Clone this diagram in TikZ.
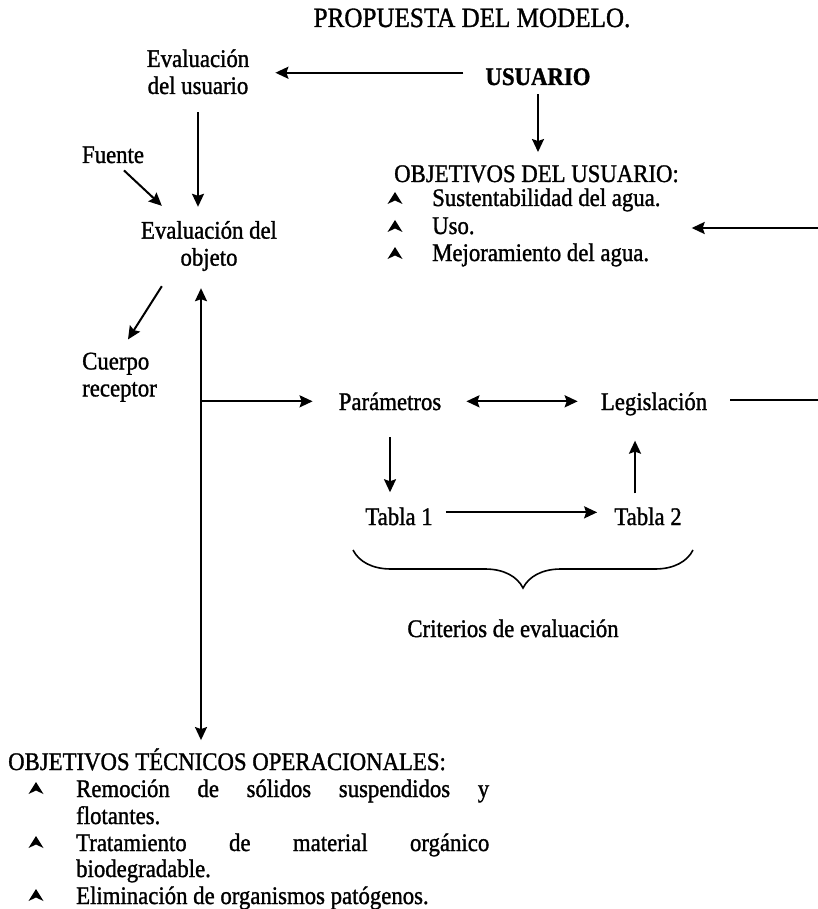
\documentclass[tikz,border=0pt]{standalone}
\usepackage{fontspec}
\setmainfont{Liberation Serif}[FakeStretch=0.9,FakeBold=1.2]
\usetikzlibrary{arrows.meta}
\usetikzlibrary{calc}
\usetikzlibrary{decorations.pathreplacing}
\newcommand\txtsize{\fontsize{25.3}{27}\selectfont}
\newcommand\bulmark[2]{
  \fill[shift={(#1,#2)}] (0,-12) -- (7.5,0) -- (0,-3.5) -- (-7.5,0) -- cycle;
}
\tikzset{
  lbl/.style={inner sep=0pt, font=\txtsize},
  conn/.style={line width=2pt, >={Stealth[length=13pt,width=12pt,inset=2pt]}},
}

\begin{document}
\begin{tikzpicture}[x=1pt,y=-1pt]
\useasboundingbox (0,0) rectangle (818,909);

\node[lbl, anchor=base, font=\fontsize{27.9}{30}\selectfont] (title) at (472,27) {PROPUESTA DEL MODELO.};

\node[lbl, anchor=base] (usuario) at (538,85) {\textbf{USUARIO}};
\node[lbl, align=center] (evus) at (198,71.8) {Evaluación\\del usuario};
\node[lbl, anchor=base] (fuente) at (113,163) {Fuente};
\node[lbl, align=center] (evob) at (209,246) {Evaluación del\\objeto};
\node[lbl, align=left, anchor=west] (cuerpo) at (82,377.2) {Cuerpo\\receptor};

\node[lbl, anchor=base west] (objus) at (394,182) {OBJETIVOS DEL USUARIO:};
\node[lbl, anchor=base west] (sust) at (432,206) {Sustentabilidad del agua.};
\node[lbl, anchor=base west] (uso) at (432,234) {Uso.};
\node[lbl, anchor=base west] (mejor) at (432,261) {Mejoramiento del agua.};

\node[lbl, anchor=base] (param) at (390,410) {Parámetros};
\node[lbl, anchor=base] (legis) at (654,410) {Legislación};
\node[lbl, anchor=base] (tab1) at (399,525) {Tabla 1};
\node[lbl, anchor=base] (tab2) at (648,525) {Tabla 2};
\node[lbl, anchor=base] (crit) at (513,637) {Criterios de evaluación};

\node[lbl, anchor=base west] (objtec) at (8,770) {OBJETIVOS TÉCNICOS OPERACIONALES:};
\node[lbl, anchor=base west] (rem) at (76,797) {\makebox[413pt][s]{Remoción de sólidos suspendidos y}};
\node[lbl, anchor=base west] (flot) at (76,824) {flotantes.};
\node[lbl, anchor=base west] (trat) at (76,851) {\makebox[413pt][s]{Tratamiento de material orgánico}};
\node[lbl, anchor=base west] (biod) at (76,877) {biodegradable.};
\node[lbl, anchor=base west] (elim) at (76,904) {Eliminación de organismos patógenos.};

\foreach \y in {204,232,259} {\bulmark{395}{\y}}
\foreach \y in {794,848,901} {\bulmark{36}{\y}}

% the loop on the right runs off the page
\coordinate (rlow) at (818,400);
\coordinate (rhigh) at (818,228);

\draw[conn, ->, shorten <=22pt, shorten >=26pt] ($(usuario.west)+(0,-4)$) -- ($(usuario.west -| evus.east)+(0,-4)$);
\draw[conn, ->, shorten <=9pt, shorten >=13pt] (usuario.south) -- (usuario.south |- objus.north);
\draw[conn, ->, shorten <=18pt, shorten >=14pt] (evus.south) -- (evus.south |- evob.north);
\draw[conn, ->] ($(fuente.south)+(11,7)$) -- ($(evob.north west)+(21,-15)$);
\draw[conn, ->] ($(evob.south west)+(21,15)$) -- ($(cuerpo.north west)+(46,-13)$);

\draw[conn, <->, shorten >=8pt] ($(evob.south)+(-8,17)$) coordinate (vt) -- (vt |- objtec.north);
\draw[conn, ->, shorten >=26pt] (vt |- param.west) -- (param.west);
\draw[conn, <->, shorten <=25pt, shorten >=23pt] (param.east) -- (param.east -| legis.west);
\draw[conn, ->, shorten <=27pt, shorten >=15pt] (param.south) -- (param.south |- tab1.north);
\draw[conn, ->, shorten <=13pt, shorten >=17pt] ($(tab1.east)+(0,-4)$) -- ($(tab1.east -| tab2.west)+(0,-4)$);
\draw[conn, ->, shorten <=14pt, shorten >=25pt] ($(tab2.north)+(-13,0)$) coordinate (t2) -- (t2 |- legis.south);

\draw[conn, shorten <=23pt] (rlow -| legis.east) -- (rlow);
\draw[conn, ->, shorten >=31pt] (rhigh) -- (rhigh -| sust.east);

\draw[line width=1.6pt, decorate, decoration={brace, amplitude=38pt, mirror}] (353,550) -- (693,550);

\end{tikzpicture}
\end{document}
